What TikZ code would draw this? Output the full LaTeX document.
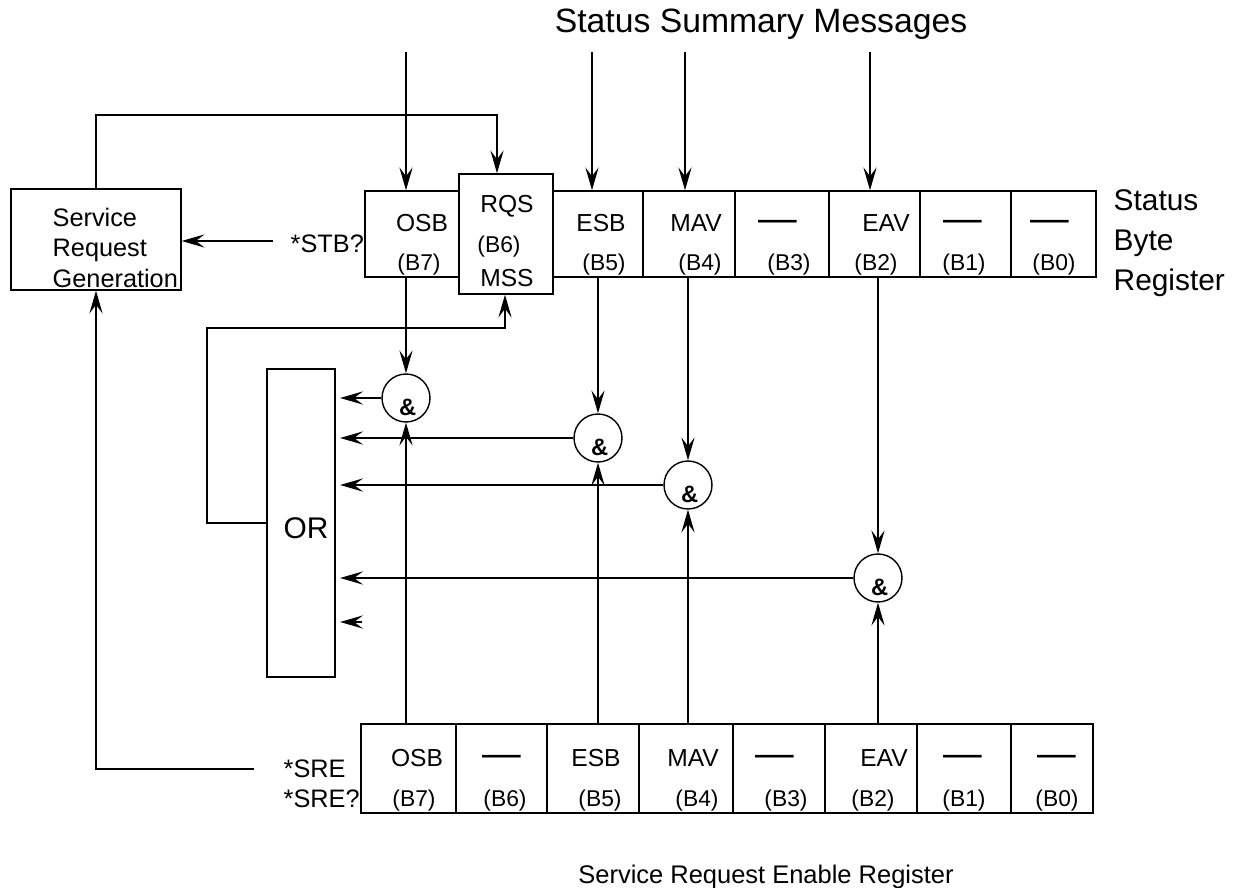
\documentclass[tikz,border=0pt]{standalone}
\usepackage{fontspec}
\setmainfont{Liberation Sans}
\usetikzlibrary{arrows.meta, positioning, calc}

\begin{document}
\begin{tikzpicture}[x=0.02cm, y=-0.02cm, >={Stealth[length=13pt, width=7.5pt, inset=5pt]}, line width=0.8pt]
        \tikzstyle{cell} = [rectangle, draw=black, inner sep=0pt]
        \tikzstyle{lab} = [inner sep=0pt, anchor=base, font=\fontsize{14}{16}\selectfont]
        \tikzstyle{bit} = [inner sep=0pt, anchor=base, font=\fontsize{13}{15}\selectfont]
        \tikzstyle{gate} = [circle, draw=black, minimum size=0.96cm, inner sep=0pt, label={[font=\bfseries\fontsize{13.5}{14}\selectfont, yshift=-5.5pt, xshift=1pt]center:\&}]
        \tikzstyle{nobit} = [inner sep=0pt, anchor=base, font=\fontsize{22}{22}\selectfont]

        \useasboundingbox (0,0) rectangle (1241,888);

        % Status byte register
        \foreach \n/\xl/\xr/\xa/\txt/\xb in {7/365/459/422/OSB/419, 5/553/643/601/ESB/604, 4/643/735/696/MAV/700, 2/829/920/886/EAV/876} {
            \pgfmathsetmacro{\w}{(\xr-\xl)*0.02}
            \node (t\n) [cell, minimum width=\w cm, minimum height=1.72cm] at ({(\xl+\xr)/2}, 234) {};
            \node (ta\n) [lab] at (\xa, 232) {\txt}; \node (tb\n) [bit] at (\xb, 271) {(B\n)};
        }
        \foreach \n/\xl/\xr/\xa/\xb in {3/735/829/778/789, 1/920/1011/963/964, 0/1011/1096/1050/1054} {
            \pgfmathsetmacro{\w}{(\xr-\xl)*0.02}
            \node (t\n) [cell, minimum width=\w cm, minimum height=1.72cm] at ({(\xl+\xr)/2}, 234) {};
            \node (ta\n) [nobit] at (\xa, 232) {—}; \node (tb\n) [bit] at (\xb, 271) {(B\n)};
        }
        \node (rqs) [cell, minimum width=1.88cm, minimum height=2.4cm] at (506, 234) {};
        \node (rqsa) [lab] at (507, 213) {RQS}; \node (rqsb) [bit] at (499, 253) {(B6)}; \node (rqsc) [lab] at (507, 287) {MSS};
        \node (sbr) [anchor=north west, inner sep=0pt, align=left, font=\fontsize{17}{22.7}\selectfont] at (1113, 189) {Status\\Byte\\Register};

        % Service request enable register
        \foreach \n/\xl/\xr/\xa/\txt/\xb in {7/361/456/417/OSB/414, 5/547/639/596/ESB/600, 4/639/733/693/MAV/697, 2/825/917/884/EAV/873} {
            \pgfmathsetmacro{\w}{(\xr-\xl)*0.02}
            \node (e\n) [cell, minimum width=\w cm, minimum height=1.78cm] at ({(\xl+\xr)/2}, 768.5) {};
            \node (ea\n) [lab] at (\xa, 766) {\txt}; \node (eb\n) [bit] at (\xb, 806) {(B\n)};
        }
        \foreach \n/\xl/\xr/\xa/\xb in {6/456/547/502/505, 3/733/825/775/786, 1/917/1011/963/964, 0/1011/1093/1057/1057} {
            \pgfmathsetmacro{\w}{(\xr-\xl)*0.02}
            \node (e\n) [cell, minimum width=\w cm, minimum height=1.78cm] at ({(\xl+\xr)/2}, 768.5) {};
            \node (ea\n) [nobit] at (\xa, 766) {—}; \node (eb\n) [bit] at (\xb, 806) {(B\n)};
        }
        \node (srer) [lab, font=\fontsize{14.5}{16}\selectfont] at (766, 883) {Service Request Enable Register};
        \node (sre) [lab, anchor=base west, font=\fontsize{14.4}{16}\selectfont] at (283, 777) {*SRE};
        \node (sreq) [lab, anchor=base west, font=\fontsize{14.4}{16}\selectfont] at (283, 807) {*SRE?};

        % Service request generation
        \node (srg) [cell, minimum width=3.4cm, minimum height=2.02cm] at (96, 239.5) {};
        \node (srgt) [anchor=north west, inner sep=0pt, align=left, font=\fontsize{14.4}{17.6}\selectfont] at (52, 207) {Service\\Request\\Generation};
        \node (stb) [lab, anchor=base west, font=\fontsize{14.4}{16}\selectfont] at (290, 253) {*STB?};

        % OR and gates
        \node (or) [cell, minimum width=1.36cm, minimum height=6.16cm] at (301, 523) {};
        \node (ort) [lab, font=\fontsize{17}{19}\selectfont] at (306, 539) {OR};
        \node (g7) [gate] at (406, 398) {};
        \node (g5) [gate] at (598, 438) {};
        \node (g4) [gate] at (688, 485) {};
        \node (g2) [gate] at (878, 578) {};

        \node (title) [lab, font=\fontsize{19.2}{21}\selectfont] at (761, 33) {Status Summary Messages};

        % Summary message inputs
        \foreach \n/\x in {7/406, 5/592, 4/685, 2/870} { \coordinate (in\n) at (\x, 52); \draw [->] (in\n) -- (in\n |- t\n.north); }

        % Register bits into the gates
        \foreach \n in {7, 5, 4, 2} { \draw [->] (g\n |- t\n.south) -- (g\n.north); \draw [->] (g\n |- e\n.north) -- (g\n.south); }
        \foreach \n in {7, 5, 4, 2} { \draw [->, shorten >=2.5pt] (g\n.west) -- (g\n.west -| or.east); }
        \coordinate (spare) at (362, 622); \draw [->, shorten >=2.5pt] (spare) -- (spare -| or.east);

        % Feedback and request loops
        \coordinate (fbl) at (207, 523); \coordinate (fbt) at (505, 328);
        \draw [->] (or.west) -- (fbl) |- (fbt) -- (fbt |- rqs.south);
        \coordinate (loop) at (497, 115); \draw [->] (srg.north) |- (loop) -- (loop |- rqs.north);
        \coordinate (stbout) at (273, 241); \draw [->] (stbout) -- (stbout -| srg.east);
        \coordinate (sreout) at (254, 769); \draw [->] (sreout) -| (srg.south);
    \end{tikzpicture}
\end{document}
